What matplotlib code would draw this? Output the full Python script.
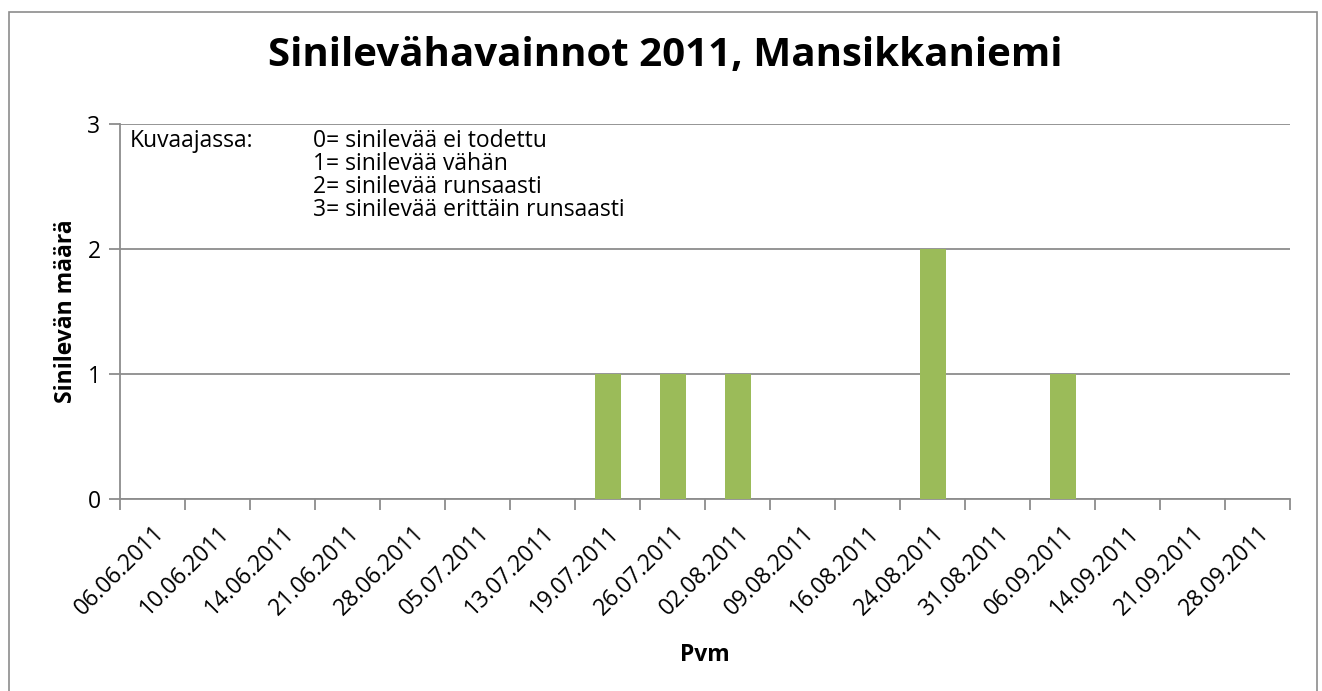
import matplotlib.pyplot as plt
from matplotlib.patches import Rectangle

dates = ['06.06.2011', '10.06.2011', '14.06.2011', '21.06.2011', '28.06.2011',
         '05.07.2011', '13.07.2011', '19.07.2011', '26.07.2011', '02.08.2011',
         '09.08.2011', '16.08.2011', '24.08.2011', '31.08.2011', '06.09.2011',
         '14.09.2011', '21.09.2011', '28.09.2011']
amounts = [0, 0, 0, 0, 0, 0, 0, 1, 1, 1, 0, 0, 2, 0, 1, 0, 0, 0]
legend_lines = ['0= sinilevää ei todettu', '1= sinilevää vähän',
                '2= sinilevää runsaasti', '3= sinilevää erittäin runsaasti']

plt.rcParams['font.family'] = ['Open Sans', 'DejaVu Sans']
fs = 16.5

W, H = 1322, 691
fig = plt.figure(figsize=(W / 100, H / 100), dpi=100)
fig.patches.append(Rectangle((9 / W, -0.01), (1317 - 9) / W, 1 - 12 / H + 0.01,
                             transform=fig.transFigure, fill=False,
                             edgecolor='#8c8c8c', linewidth=1.2))

ax = fig.add_axes([120 / W, 1 - 499 / H, (1290 - 120) / W, (499 - 124) / H])
x = list(range(len(dates)))
ax.bar(x, amounts, width=0.4, color='#9bbb59', zorder=3)
ax.set_xlim(-0.5, len(dates) - 0.5)
ax.set_ylim(0, 3)
ax.set_yticks([0, 1, 2, 3])
ax.yaxis.grid(True, color='#8c8c8c', linewidth=1.3, zorder=0)
ax.set_xticks([i - 0.5 for i in range(len(dates) + 1)])
ax.set_xticklabels([])
ax.set_xticks(x, minor=True)
ax.set_xticklabels(dates, minor=True, rotation=45, ha='right',
                   rotation_mode='anchor', fontsize=fs)
ax.tick_params(axis='x', which='minor', length=0, pad=16)
ax.tick_params(axis='x', which='major', length=8, color='#8c8c8c', width=1.3)
ax.tick_params(axis='y', length=8, color='#8c8c8c', width=1.3, labelsize=fs, pad=6)
for s in ['top', 'right']:
    ax.spines[s].set_visible(False)
for s in ['left', 'bottom']:
    ax.spines[s].set_color('#8c8c8c')
    ax.spines[s].set_linewidth(1.3)

ax.set_ylabel('Sinilevän määrä', fontsize=fs, fontweight='bold', labelpad=7)
ax.set_xlabel('Pvm', fontsize=fs, fontweight='bold', labelpad=16)
fig.text(665 / W, 1 - 66 / H, 'Sinilevähavainnot 2011, Mansikkaniemi',
         ha='center', va='baseline', fontsize=29, fontweight='bold')

fig.text(130 / W, 1 - 141 / H, 'Kuvaajassa:', fontsize=fs, va='center')
for i, line in enumerate(legend_lines):
    fig.text(313 / W, 1 - (141 + 23 * i) / H, line, fontsize=fs, va='center')

fig.savefig('out.png', dpi=100)
